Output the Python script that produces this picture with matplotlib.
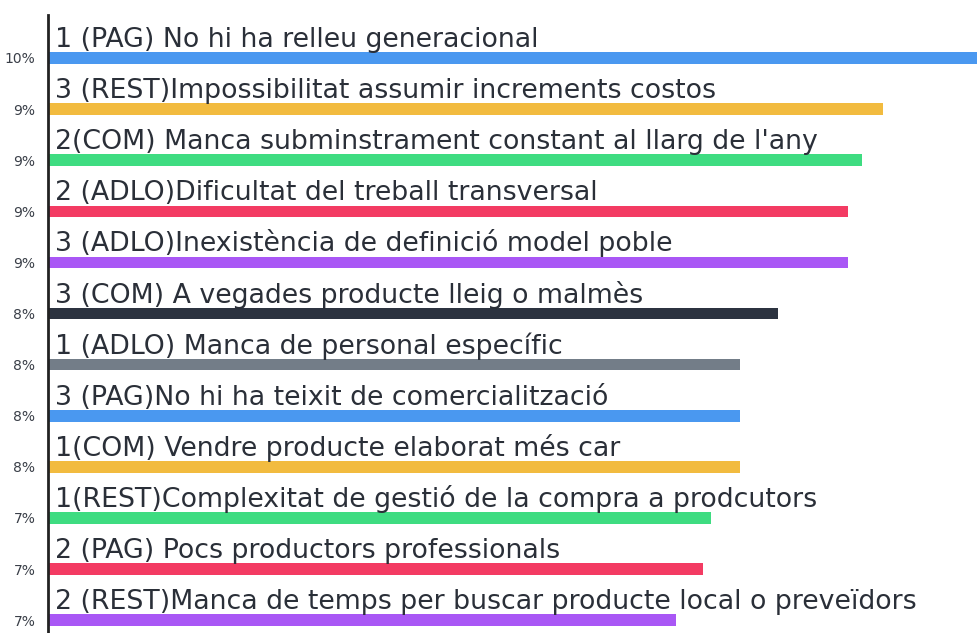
import matplotlib
matplotlib.use("Agg")
import matplotlib.pyplot as plt

# reptes / dificultats detectades, ordenades de més a menys citades
labels = [
    "1 (PAG) No hi ha relleu generacional",
    "3 (REST)Impossibilitat assumir increments costos",
    "2(COM) Manca subminstrament constant al llarg de l'any",
    "2 (ADLO)Dificultat del treball transversal",
    "3 (ADLO)Inexistència de definició model poble",
    "3 (COM) A vegades producte lleig o malmès",
    "1 (ADLO) Manca de personal específic",
    "3 (PAG)No hi ha teixit de comercialització",
    "1(COM) Vendre producte elaborat més car",
    "1(REST)Complexitat de gestió de la compra a prodcutors",
    "2 (PAG) Pocs productors professionals",
    "2 (REST)Manca de temps per buscar producte local o preveïdors",
]
values = [10.45, 9.27, 9.04, 8.89, 8.89, 8.11, 7.69, 7.69, 7.69, 7.36, 7.27, 6.97]
colors = ["#4a98f0", "#f2bb3f", "#3edc81", "#f33b63", "#a957f5", "#2c3340",
          "#737d88", "#4a98f0", "#f2bb3f", "#3edc81", "#f33b63", "#a957f5"]

plt.rcParams['font.family'] = ['DejaVu Sans']

fig = plt.figure(figsize=(9.78, 6.33), dpi=100)
ax = fig.add_axes([48 / 978, 0.0, 1 - 48 / 978, 618 / 633])

pos = list(range(len(values)))
ax.barh(pos, values, height=0.225, color=colors)

for i, txt in enumerate(labels):
    ax.text(0.08, i - 0.215, txt, fontsize=19.3, color="#2a2f38",
            va="baseline", ha="left")

ax.set_ylim(11.25, -0.84)
ax.set_xlim(0, 10.33)
ax.set_yticks(pos)
ax.set_yticklabels([f"{round(v)}%" for v in values], fontsize=10, color="#3a3f48")
ax.tick_params(axis="y", length=0, pad=9)
ax.set_xticks([])

for s in ["top", "right", "bottom"]:
    ax.spines[s].set_visible(False)
ax.spines["left"].set_linewidth(2)
ax.spines["left"].set_color("#222222")

fig.savefig("out.png", dpi=100)
